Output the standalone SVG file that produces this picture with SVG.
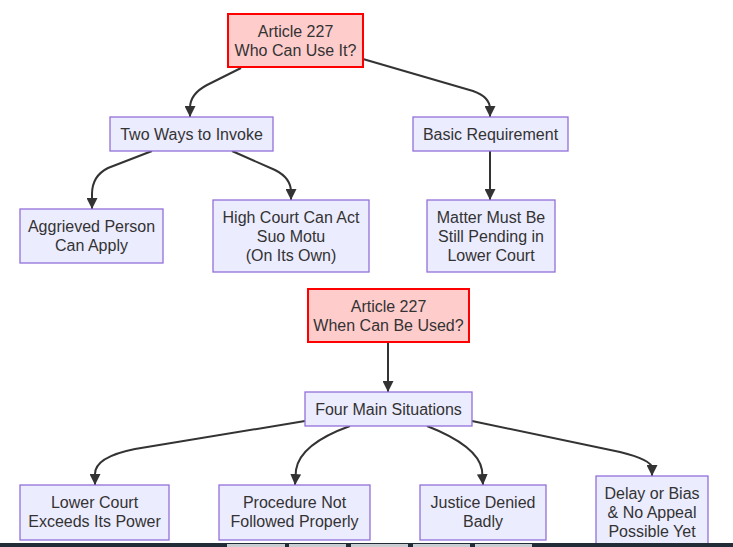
<svg xmlns="http://www.w3.org/2000/svg" width="733" height="547" viewBox="0 0 733 547">
<style>
.n rect{fill:#ECECFF;stroke:#9370DB;stroke-width:1.3}
.r rect{fill:#ffcccc;stroke:#ff0000;stroke-width:2}
text{font-family:"Liberation Sans",Arial,sans-serif;font-size:16px;fill:#333;text-anchor:middle}
.e path{fill:none;stroke:#333;stroke-width:2}
</style>
<defs>
<marker id="ah" markerUnits="userSpaceOnUse" markerWidth="11" markerHeight="11" viewBox="0 0 10 10" refX="10" refY="5" orient="auto">
<path d="M0,0 L10,5 L0,10 z" fill="#333"/>
</marker>
</defs>
<rect width="733" height="547" fill="#ffffff"/>
<g class="e">
<path d="M241,68 L207,85 Q190,94 190,108 L190,117" marker-end="url(#ah)"/>
<path d="M363,59 L473,91 Q490,97 490,109 L490,117" marker-end="url(#ah)"/>
<path d="M152,151 L108,168 Q92,176 92,194 L92,209" marker-end="url(#ah)"/>
<path d="M232,151 L275,170 Q291,178 291,192 L291,200" marker-end="url(#ah)"/>
<path d="M490,151 L490,200" marker-end="url(#ah)"/>
<path d="M388,342 L388,392" marker-end="url(#ah)"/>
<path d="M305,421 L135,449 Q95,457 95,474 L95,485" marker-end="url(#ah)"/>
<path d="M350,426 Q300,444 296,470 L295,485" marker-end="url(#ah)"/>
<path d="M427,426 Q478,446 482,470 L483,485" marker-end="url(#ah)"/>
<path d="M472,421 L620,452 Q652,460 652,468 L652,476" marker-end="url(#ah)"/>
</g>
<g id="A1" class="r"><rect x="228" y="14" width="135" height="53"/><text x="295.5" y="36.5">Article 227</text><text x="295.5" y="55.5">Who Can Use It?</text></g>
<g id="B1" class="n"><rect x="110" y="117" width="163" height="34"/><text x="191.5" y="139.5">Two Ways to Invoke</text></g>
<g id="B2" class="n"><rect x="413" y="117" width="155" height="34"/><text x="490.5" y="139.5">Basic Requirement</text></g>
<g id="C1" class="n"><rect x="20" y="209" width="143" height="54"/><text x="91.5" y="232">Aggrieved Person</text><text x="91.5" y="251">Can Apply</text></g>
<g id="C2" class="n"><rect x="213" y="200" width="156" height="72"/><text x="291" y="222.5">High Court Can Act</text><text x="291" y="241.5">Suo Motu</text><text x="291" y="260.5">(On Its Own)</text></g>
<g id="C3" class="n"><rect x="427" y="200" width="128" height="72"/><text x="491" y="222.5">Matter Must Be</text><text x="491" y="241.5">Still Pending in</text><text x="491" y="260.5">Lower Court</text></g>
<g id="A2" class="r"><rect x="308" y="289" width="161" height="53"/><text x="388.5" y="311.5">Article 227</text><text x="388.5" y="330.5">When Can Be Used?</text></g>
<g id="D0" class="n"><rect x="305" y="392" width="167" height="34"/><text x="388.5" y="414.5">Four Main Situations</text></g>
<g id="D1" class="n"><rect x="20" y="485" width="149" height="55"/><text x="94.5" y="508">Lower Court</text><text x="94.5" y="527">Exceeds Its Power</text></g>
<g id="D2" class="n"><rect x="219" y="485" width="151" height="55"/><text x="294.5" y="508">Procedure Not</text><text x="294.5" y="527">Followed Properly</text></g>
<g id="D3" class="n"><rect x="420" y="485" width="126" height="55"/><text x="483" y="508">Justice Denied</text><text x="483" y="527">Badly</text></g>
<g id="D4" class="n"><rect x="596" y="476" width="112" height="72"/><text x="652" y="498.5">Delay or Bias</text><text x="652" y="517.5">&amp; No Appeal</text><text x="652" y="536.5">Possible Yet</text></g>
<rect x="0" y="543" width="733" height="4" fill="#222c36"/>
<g fill="#c9ccd0">
<rect x="227" y="544" width="58" height="3"/>
<rect x="289" y="544" width="57" height="3"/>
<rect x="351" y="544" width="57" height="3"/>
<rect x="413" y="544" width="57" height="3"/>
<rect x="475" y="544" width="57" height="3"/>
</g>
</svg>
